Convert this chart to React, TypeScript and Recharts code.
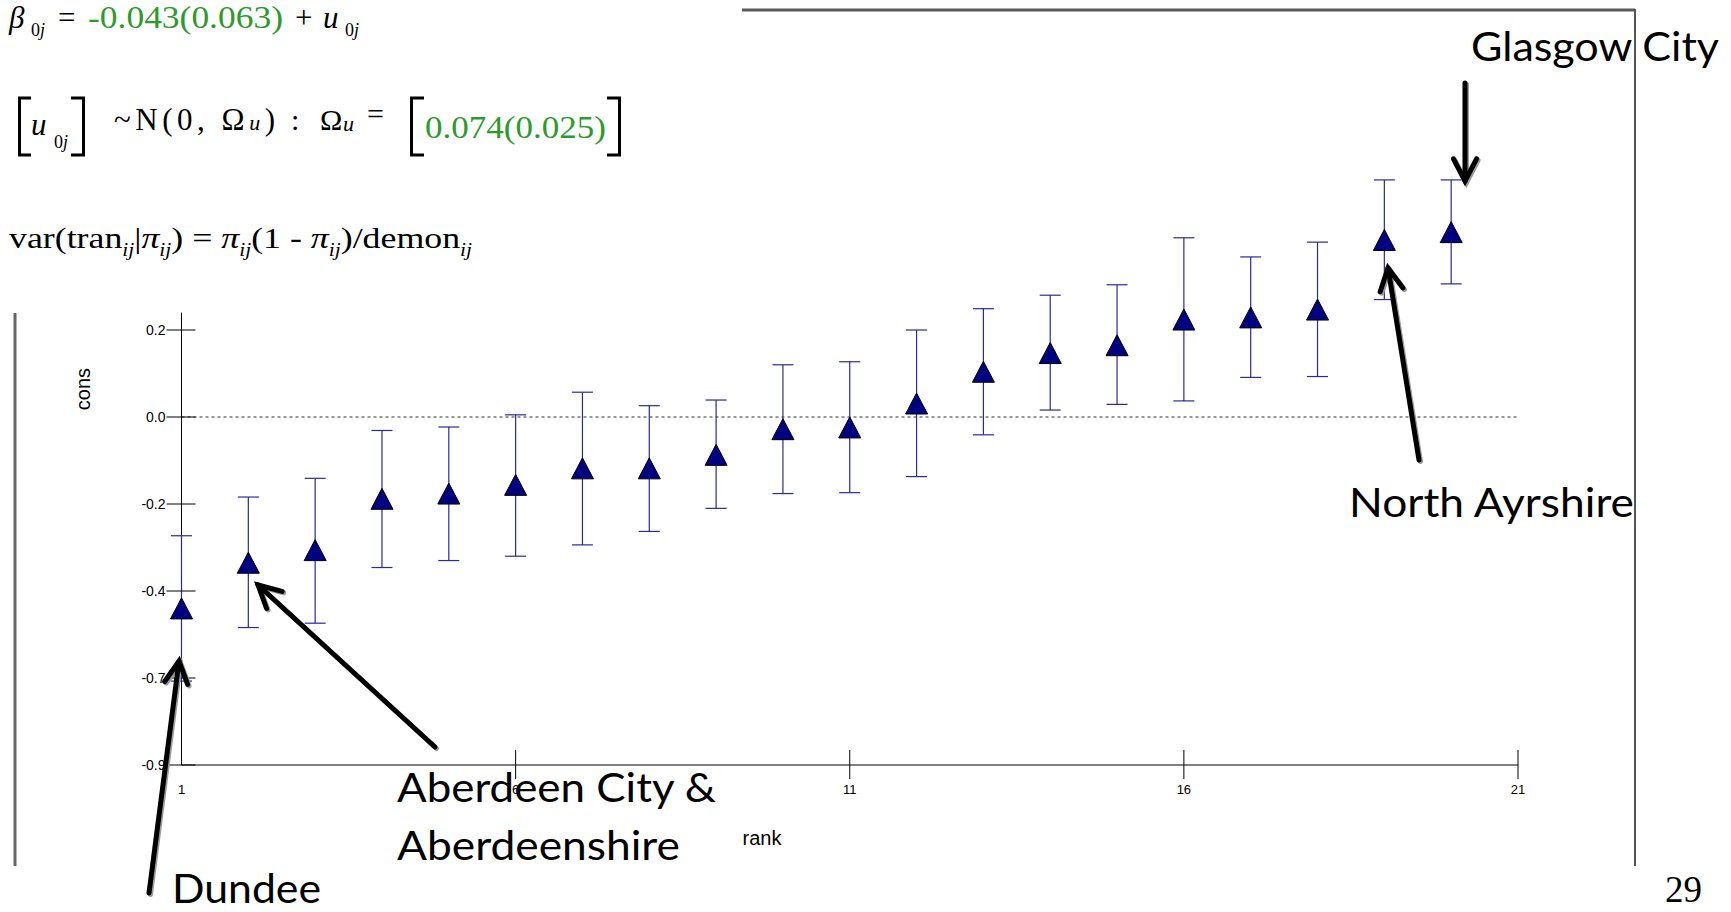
import { ScatterChart, Scatter, XAxis, YAxis, ErrorBar, ReferenceLine } from "recharts"

// rank of each area (caterpillar plot), estimate of u0j + beta0 and its interval
const ranks = [1, 2, 3, 4, 5, 6, 7, 8, 9, 10, 11, 12, 13, 14, 15, 16, 17, 18, 19, 20]
const cons = [-0.44, -0.335, -0.306, -0.188, -0.176, -0.156, -0.118, -0.118, -0.087, -0.028, -0.024, 0.031, 0.104, 0.147, 0.165, 0.224, 0.229, 0.247, 0.407, 0.425]
const lower = [-0.607, -0.484, -0.474, -0.346, -0.33, -0.32, -0.294, -0.263, -0.21, -0.176, -0.174, -0.137, -0.041, 0.016, 0.029, 0.037, 0.091, 0.093, 0.27, 0.306]
const upper = [-0.273, -0.184, -0.141, -0.031, -0.023, 0.005, 0.057, 0.026, 0.039, 0.12, 0.127, 0.2, 0.249, 0.28, 0.304, 0.412, 0.368, 0.402, 0.545, 0.545]

const xTicks = [1, 6, 11, 16, 21]
const yTicks = [0.2, 0, -0.2, -0.4, -0.6, -0.8]
const yTickLabels = ["0.2", "0.0", "-0.2", "-0.4", "-0.7", "-0.9"]

const data = ranks.map((r, i) => ({
  rank: r,
  cons: cons[i],
  err: [cons[i] - lower[i], upper[i] - cons[i]],
}))

const GREEN = "#2e9a2e"
const SERIF = "'Liberation Serif', 'Times New Roman', serif"
const SANS = "'Liberation Sans', Arial, sans-serif"
const NOTE = "Lato, 'Open Sans', sans-serif"

function Triangle(props: any) {
  const { cx, cy } = props
  if (cx == null || cy == null) return null
  return (
    <polygon
      points={`${cx},${cy - 10.5} ${cx - 11},${cy + 10.5} ${cx + 11},${cy + 10.5}`}
      fill="#000080"
      stroke="#000"
      strokeWidth={1}
    />
  )
}

function YTick(props: any) {
  const { x, y, payload } = props
  const i = yTicks.indexOf(payload.value)
  return (
    <g>
      <line x1={x - 15} x2={x + 14} y1={y} y2={y} stroke="#000" strokeWidth={1} />
      <text x={x - 16} y={y + 5} textAnchor="end" fontSize={14} fontFamily={SANS} fill="#000">
        {i >= 0 ? yTickLabels[i] : payload.value}
      </text>
    </g>
  )
}

function XTick(props: any) {
  const { x, y, payload, index } = props
  return (
    <g>
      {index > 0 && <line x1={x} x2={x} y1={y - 15} y2={y + 14} stroke="#000" strokeWidth={1} />}
      <text x={x} y={y + 29} textAnchor="middle" fontSize={13} fontFamily={SANS} fill="#000">
        {payload.value}
      </text>
    </g>
  )
}

function Arrow({ x1, y1, x2, y2 }: { x1: number; y1: number; x2: number; y2: number }) {
  const a = Math.atan2(y2 - y1, x2 - x1)
  const len = 25
  const spread = 0.48
  const ax = x2 - len * Math.cos(a - spread)
  const ay = y2 - len * Math.sin(a - spread)
  const bx = x2 - len * Math.cos(a + spread)
  const by = y2 - len * Math.sin(a + spread)
  const body = (dx: number, dy: number, color: string) => (
    <g stroke={color} strokeWidth={5} fill="none" strokeLinecap="round" strokeLinejoin="miter">
      <line x1={x1 + dx} y1={y1 + dy} x2={x2 + dx} y2={y2 + dy} />
      <polyline points={`${ax + dx},${ay + dy} ${x2 + dx},${y2 + dy} ${bx + dx},${by + dy}`} />
    </g>
  )
  return (
    <g>
      {body(1.5, 1.5, "#9a9a9a")}
      {body(0, 0, "#000")}
    </g>
  )
}

export default function App() {
  return (
    <div style={{ position: "absolute", left: 0, top: 0, width: 1731, height: 912, background: "#fff" }}>
      <ScatterChart
        width={1731}
        height={912}
        margin={{ top: 173.4, right: 213, bottom: 117, left: 121.5 }}
      >
        <XAxis
          type="number"
          dataKey="rank"
          domain={[1, 21]}
          ticks={xTicks}
          interval={0}
          height={30}
          tickSize={0}
          tickMargin={0}
          tick={<XTick />}
          tickLine={false}
          axisLine={{ stroke: "#000", strokeWidth: 1 }}
        />
        <YAxis
          type="number"
          dataKey="cons"
          domain={[-0.8, 0.56]}
          ticks={yTicks}
          interval={0}
          width={60}
          tickSize={0}
          tickMargin={0}
          tick={<YTick />}
          tickLine={false}
          axisLine={false}
        />
        <ReferenceLine
          segment={[
            { x: 1, y: -0.8 },
            { x: 1, y: 0.24 },
          ]}
          stroke="#000"
          strokeWidth={1}
        />
        <ReferenceLine y={0} stroke="#333" strokeDasharray="3 3" strokeWidth={1} />
        <Scatter data={data} dataKey="cons" shape={Triangle} isAnimationActive={false}>
          <ErrorBar
            dataKey="err"
            direction="y"
            width={10.5}
            stroke="#2a2a9c"
            strokeWidth={1.2}
            isAnimationActive={false}
          />
        </Scatter>
      </ScatterChart>

      <svg
        width={1731}
        height={912}
        style={{ position: "absolute", left: 0, top: 0, pointerEvents: "none" }}
      >
        {/* slide frame */}
        <line x1={742} y1={10} x2={1635} y2={10} stroke="#5a5a5a" strokeWidth={3} />
        <line x1={1635} y1={9} x2={1635} y2={866} stroke="#555" strokeWidth={2} />
        <line x1={15} y1={313} x2={15} y2={866} stroke="#666" strokeWidth={3} />

        {/* model equations */}
        <g fontFamily={SERIF} fill="#000">
          <text x={9} y={28} fontSize={31} fontStyle="italic">β</text>
          <text x={31} y={36} fontSize={18}>0<tspan fontStyle="italic">j</tspan></text>
          <text x={58} y={28} fontSize={31}>=</text>
          <text x={88} y={28} fontSize={31} fill={GREEN} textLength={195} lengthAdjust="spacingAndGlyphs">-0.043(0.063)</text>
          <text x={295} y={28} fontSize={31}>+</text>
          <text x={323} y={28} fontSize={31} fontStyle="italic">u</text>
          <text x={345} y={36} fontSize={18}>0<tspan fontStyle="italic">j</tspan></text>

          <path d="M31,98 H19.5 V155 H31" stroke="#000" strokeWidth={3} fill="none" />
          <text x={31} y={135} fontSize={31} fontStyle="italic">u</text>
          <text x={54} y={148} fontSize={18}>0<tspan fontStyle="italic">j</tspan></text>
          <path d="M71,98 H83.5 V155 H71" stroke="#000" strokeWidth={3} fill="none" />
          <text x={114} y={130} fontSize={31} textLength={161} lengthAdjust="spacing">
            ~N(0,  Ω<tspan fontStyle="italic" fontSize={22}>u</tspan>)
          </text>
          <text x={291} y={130} fontSize={30}>:</text>
          <text x={320} y={130} fontSize={30}>Ω</text>
          <text x={343} y={131} fontSize={22} fontStyle="italic">u</text>
          <text x={367} y={124} fontSize={30}>=</text>
          <path d="M424,98 H411.5 V155 H424" stroke="#000" strokeWidth={3} fill="none" />
          <text x={425} y={138} fontSize={31} fill={GREEN} textLength={181} lengthAdjust="spacingAndGlyphs">0.074(0.025)</text>
          <path d="M607,98 H619.5 V155 H607" stroke="#000" strokeWidth={3} fill="none" />

          <text x={9} y={248} fontSize={30} textLength={463} lengthAdjust="spacingAndGlyphs">
            var(tran
            <tspan fontSize={18} fontStyle="italic" dy={8}>ij</tspan>
            <tspan dy={-8}>|</tspan>
            <tspan fontStyle="italic">π</tspan>
            <tspan fontSize={18} fontStyle="italic" dy={8}>ij</tspan>
            <tspan dy={-8}>) = </tspan>
            <tspan fontStyle="italic">π</tspan>
            <tspan fontSize={18} fontStyle="italic" dy={8}>ij</tspan>
            <tspan dy={-8}>(1 - </tspan>
            <tspan fontStyle="italic">π</tspan>
            <tspan fontSize={18} fontStyle="italic" dy={8}>ij</tspan>
            <tspan dy={-8}>)/demon</tspan>
            <tspan fontSize={18} fontStyle="italic" dy={8}>ij</tspan>
          </text>
        </g>

        {/* axis titles */}
        <text x={90} y={389} transform="rotate(-90 90 389)" textAnchor="middle" fontSize={20} fontFamily={SANS}>cons</text>
        <text x={762} y={845} textAnchor="middle" fontSize={20} fontFamily={SANS}>rank</text>

        {/* annotations */}
        <g fontFamily={NOTE} fill="#000" fontSize={40}>
          <text x={1471} y={61} textLength={248} lengthAdjust="spacingAndGlyphs">Glasgow City</text>
          <text x={1349} y={517} textLength={285} lengthAdjust="spacingAndGlyphs">North Ayrshire</text>
          <text x={397} y={802} textLength={319} lengthAdjust="spacingAndGlyphs">Aberdeen City &amp;</text>
          <text x={397} y={860} textLength={283} lengthAdjust="spacingAndGlyphs">Aberdeenshire</text>
          <text x={172} y={903} textLength={149} lengthAdjust="spacingAndGlyphs">Dundee</text>
        </g>
        <Arrow x1={1465} y1={83} x2={1465} y2={181} />
        <Arrow x1={1419} y1={460} x2={1388} y2={268} />
        <Arrow x1={435} y1={747} x2={258} y2={585} />
        <Arrow x1={149} y1={893} x2={179} y2={661} />

        <text x={1665} y={902} fontSize={37} fontFamily={SERIF}>29</text>
      </svg>
    </div>
  )
}
